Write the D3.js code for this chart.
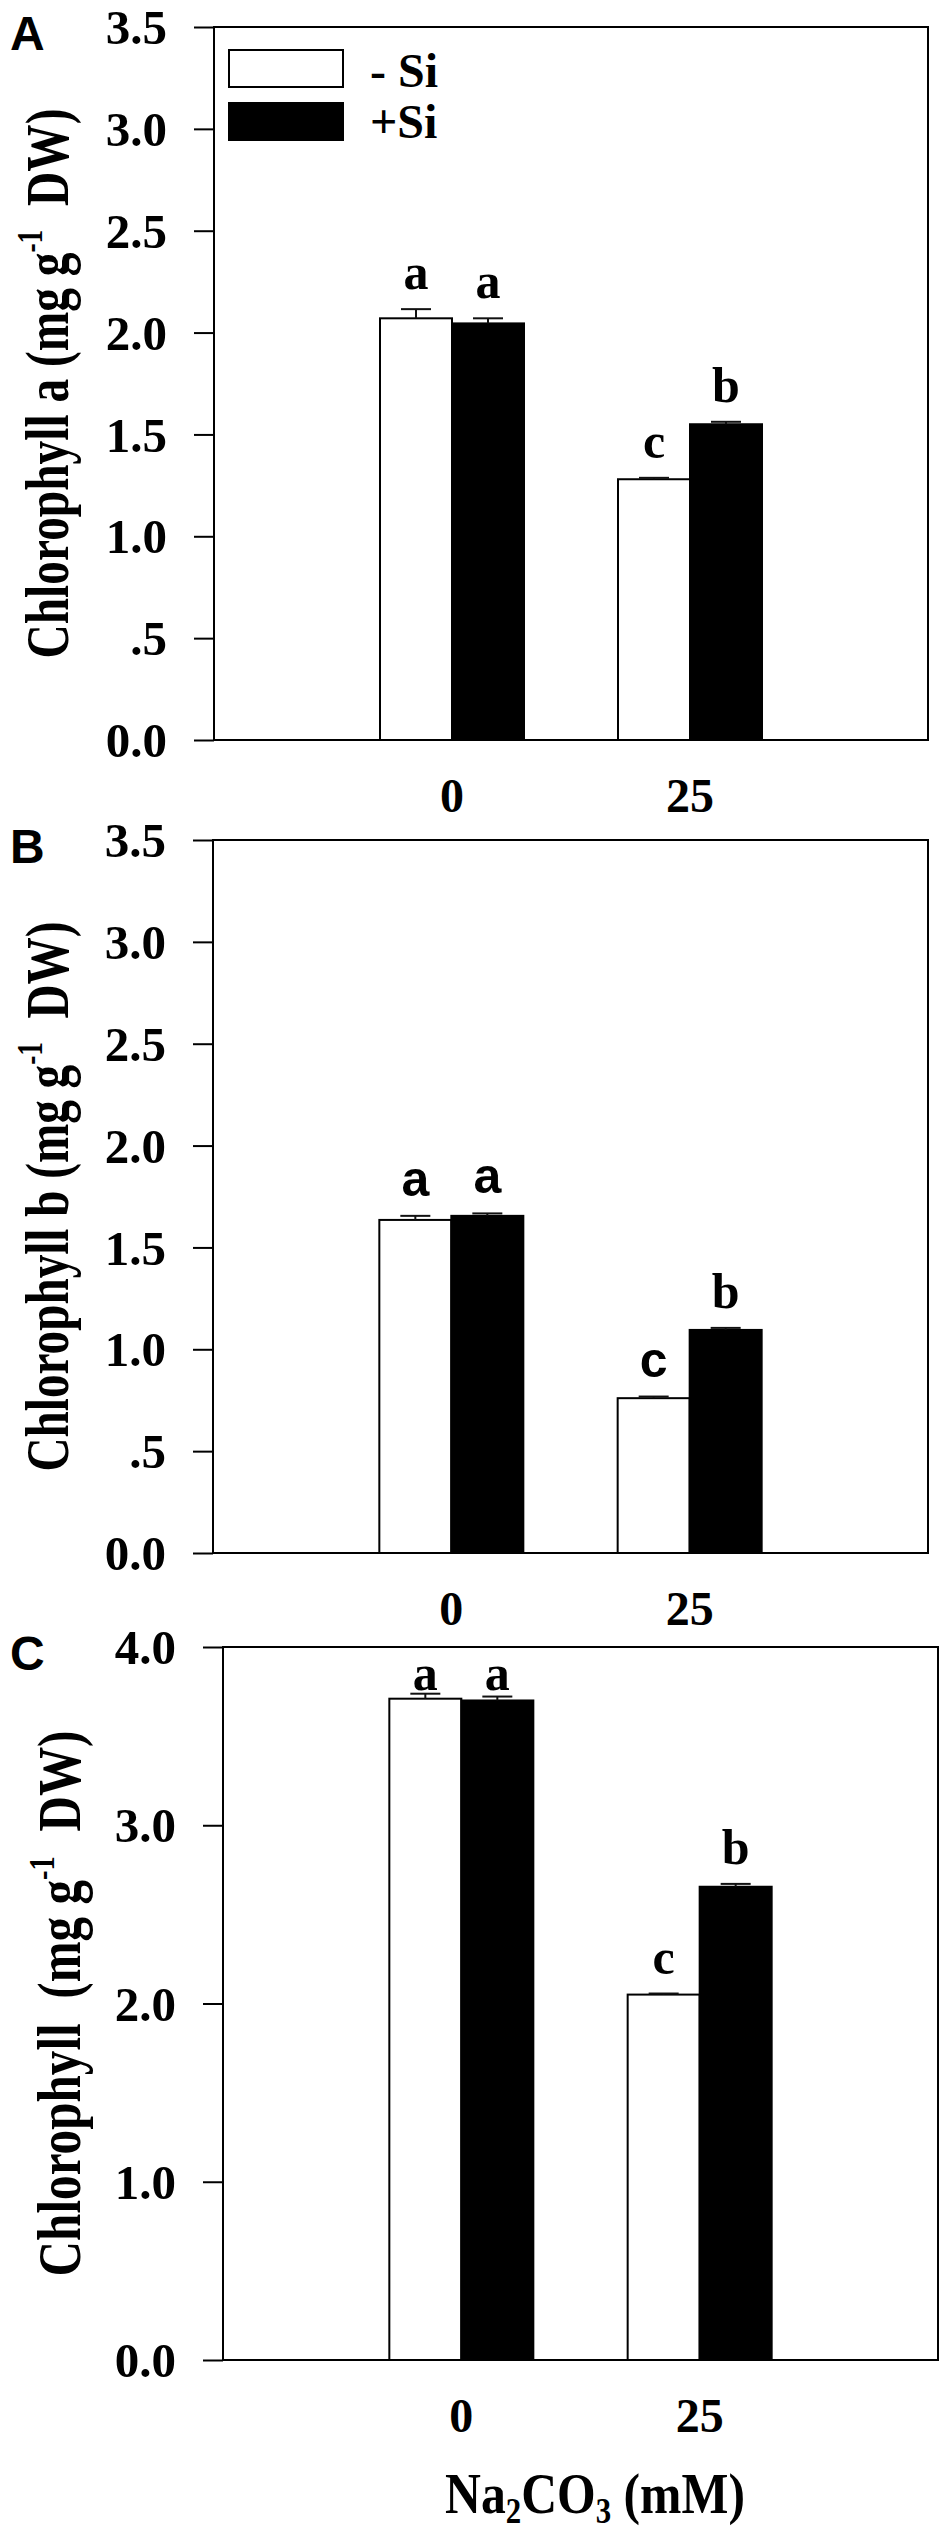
<!DOCTYPE html>
<html lang="en">
<head>
  <meta charset="utf-8">
  <title>Chlorophyll</title>
  <script src="https://d3js.org/d3.v7.min.js"></script>
  <style>
    body { margin: 0; background: #fff; }
    .serif { font-family: "Liberation Serif", "Times New Roman", serif; font-weight: bold; }
    .sans { font-family: "Liberation Sans", Arial, sans-serif; font-weight: bold; }
    .pre { white-space: pre; }
  </style>
</head>
<body>
<svg id="chart" width="950" height="2533"></svg>
<script>
// categories (Na2CO3, mM) and series
var categories = ["0", "25"];
var series = ["- Si", "+Si"];

// Chlorophyll a
var chlA_minusSi = [2.07, 1.28];
var chlA_minusSi_se = [0.045, 0.007];
var chlA_plusSi = [2.045, 1.55];
var chlA_plusSi_se = [0.025, 0.012];
var chlA_minusSi_letters = ["a", "c"];
var chlA_plusSi_letters = ["a", "b"];

// Chlorophyll b
var chlB_minusSi = [1.635, 0.76];
var chlB_minusSi_se = [0.02, 0.008];
var chlB_plusSi = [1.655, 1.095];
var chlB_plusSi_se = [0.012, 0.01];
var chlB_minusSi_letters = ["a", "c"];
var chlB_plusSi_letters = ["a", "b"];

// total chlorophyll
var chlT_minusSi = [3.71, 2.05];
var chlT_minusSi_se = [0.028, 0.006];
var chlT_plusSi = [3.70, 2.655];
var chlT_plusSi_se = [0.022, 0.016];
var chlT_minusSi_letters = ["a", "c"];
var chlT_plusSi_letters = ["a", "b"];

// y ticks
var tickValuesAB = [0, 0.5, 1, 1.5, 2, 2.5, 3, 3.5];
var tickLabelsAB = ["0.0", ".5", "1.0", "1.5", "2.0", "2.5", "3.0", "3.5"];
var tickValuesC = [0, 1, 2, 3, 4];
var tickLabelsC = ["0.0", "1.0", "2.0", "3.0", "4.0"];

var root = d3.select("#chart");
root.append("rect").attr("width", 950).attr("height", 2533).attr("fill", "#fff");
// small nudge down so the top tick label box stays inside the page
var svg = root.append("g").attr("transform", "translate(0,2)");

var panels = [
  { tag: "A", top: 25, bottom: 738, left: 214, right: 928, ymax: 3.5,
    ticks: tickValuesAB, tickLabels: tickLabelsAB,
    yLabel: ["Chlorophyll a (mg g", "-1", "  DW)"], labelX: 68, labelLen: 550,
    series: [[chlA_minusSi, chlA_minusSi_se, chlA_minusSi_letters],
             [chlA_plusSi, chlA_plusSi_se, chlA_plusSi_letters]],
    letterFonts: [["serif", "serif"], ["serif", "serif"]], legend: true },
  { tag: "B", top: 838, bottom: 1551, left: 213, right: 928, ymax: 3.5,
    ticks: tickValuesAB, tickLabels: tickLabelsAB,
    yLabel: ["Chlorophyll b (mg g", "-1", "  DW)"], labelX: 68, labelLen: 550,
    series: [[chlB_minusSi, chlB_minusSi_se, chlB_minusSi_letters],
             [chlB_plusSi, chlB_plusSi_se, chlB_plusSi_letters]],
    letterFonts: [["sans", "sans"], ["sans", "serif"]], legend: false },
  { tag: "C", top: 1645, bottom: 2358, left: 223, right: 938, ymax: 4,
    ticks: tickValuesC, tickLabels: tickLabelsC,
    yLabel: ["Chlorophyll  (mg g", "-1", "  DW)"], labelX: 80, labelLen: 546,
    series: [[chlT_minusSi, chlT_minusSi_se, chlT_minusSi_letters],
             [chlT_plusSi, chlT_plusSi_se, chlT_plusSi_letters]],
    letterFonts: [["serif", "serif"], ["serif", "serif"]], legend: false }
];

var fills = ["#fff", "#000"];

panels.forEach(function(p) {
  var g = svg.append("g");
  var y = d3.scaleLinear().domain([0, p.ymax]).range([p.bottom, p.top]);
  var x = d3.scalePoint().domain(categories).range([p.left, p.right]).padding(1);
  var xs = d3.scaleBand().domain(series).range([-72, 72]);

  // bars
  p.series.forEach(function(s, si) {
    var vals = s[0], se = s[1];
    g.selectAll(".bar" + si)
      .data(vals)
      .enter()
      .append("rect")
      .attr("x", function(d, i) { return x(categories[i]) + xs(series[si]); })
      .attr("y", function(d) { return y(d); })
      .attr("width", xs.bandwidth())
      .attr("height", function(d) { return y(0) - y(d); })
      .attr("fill", fills[si])
      .attr("stroke", "#000")
      .attr("stroke-width", 2);

    // error bars (upper only)
    vals.forEach(function(d, i) {
      var cx = x(categories[i]) + xs(series[si]) + xs.bandwidth() / 2;
      var col = "#111";
      g.append("line").attr("x1", cx).attr("x2", cx)
        .attr("y1", y(d)).attr("y2", y(d + se[i]))
        .attr("stroke", col).attr("stroke-width", 2);
      g.append("line").attr("x1", cx - 15).attr("x2", cx + 15)
        .attr("y1", y(d + se[i])).attr("y2", y(d + se[i]))
        .attr("stroke", col).attr("stroke-width", 2);
      // significance letter
      g.append("text")
        .attr("class", p.letterFonts[si][i])
        .attr("x", cx)
        .attr("y", Math.max(y(d + se[i]) - 20, p.top + 43))
        .attr("text-anchor", "middle")
        .attr("font-size", 50)
        .text(s[2][i]);
    });
  });

  // frame
  g.append("rect")
    .attr("x", p.left).attr("y", p.top)
    .attr("width", p.right - p.left).attr("height", p.bottom - p.top)
    .attr("fill", "none").attr("stroke", "#000").attr("stroke-width", 2);

  // y axis
  var ax = g.append("g")
    .attr("transform", "translate(" + p.left + ",0)")
    .call(d3.axisLeft(y)
      .tickValues(p.ticks)
      .tickFormat(function(d, i) { return p.tickLabels[i]; })
      .tickSize(20).tickSizeOuter(0).tickPadding(27));
  ax.select(".domain").remove();
  ax.selectAll(".tick line").attr("stroke", "#000").attr("stroke-width", 2);
  ax.selectAll(".tick text")
    .attr("class", "serif")
    .attr("font-size", 49)
    .attr("fill", "#000")
    .attr("dy", "0.34em");

  // x tick labels
  g.selectAll(".xlab")
    .data(categories)
    .enter()
    .append("text")
    .attr("class", "serif")
    .attr("x", function(d) { return x(d); })
    .attr("y", p.bottom + 72)
    .attr("text-anchor", "middle")
    .attr("font-size", 48)
    .text(function(d) { return d; });

  // y label (rotated, condensed to fit)
  var lab = g.append("g")
    .attr("transform", "translate(" + p.labelX + "," + (p.top + p.bottom) / 2 + ") rotate(-90)");
  var t = lab.append("text").attr("class", "serif pre").attr("font-size", 62).attr("text-anchor", "middle");
  t.append("tspan").text(p.yLabel[0]);
  t.append("tspan").attr("font-size", 36).attr("dy", -26).text(p.yLabel[1]);
  t.append("tspan").attr("dy", 26).text(p.yLabel[2]);
  var w = t.node().getComputedTextLength();
  t.attr("transform", "scale(" + (p.labelLen / w) + ",1)");

  // panel tag
  g.append("text")
    .attr("class", "sans")
    .attr("x", 10).attr("y", p.top + 23)
    .attr("font-size", 48)
    .text(p.tag);

  // legend
  if (p.legend) {
    series.forEach(function(s, si) {
      g.append("rect")
        .attr("x", 229).attr("y", p.top + 23 + si * 53)
        .attr("width", 114).attr("height", 37)
        .attr("fill", fills[si]).attr("stroke", "#000").attr("stroke-width", 2);
      g.append("text")
        .attr("class", "serif pre")
        .attr("x", 370).attr("y", p.top + 60 + si * 51)
        .attr("font-size", 48)
        .text(s);
    });
  }
});

// x axis title
var tg = svg.append("g").attr("transform", "translate(595,2511)");
var tt = tg.append("text").attr("class", "serif pre").attr("font-size", 58).attr("text-anchor", "middle");
tt.append("tspan").text("Na");
tt.append("tspan").attr("font-size", 36).attr("dy", 10).text("2");
tt.append("tspan").attr("dy", -10).text("CO");
tt.append("tspan").attr("font-size", 36).attr("dy", 10).text("3");
tt.append("tspan").attr("dy", -10).text(" (mM)");
var tw = tt.node().getComputedTextLength();
tt.attr("transform", "scale(" + (300 / tw) + ",1)");
</script>
</body>
</html>
